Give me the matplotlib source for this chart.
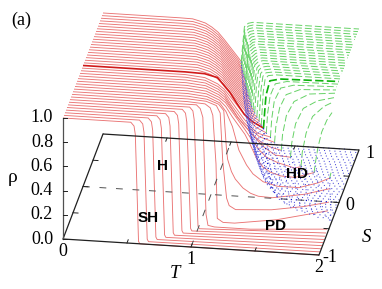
import matplotlib
matplotlib.use('Agg')
import matplotlib.pyplot as plt
import numpy as np

plt.rcParams['font.family'] = ['Liberation Serif', 'DejaVu Serif']

# oblique view of the (T, S, rho) box
ORIGIN_X, ORIGIN_Y = 63, 239
T_DX, T_DY = 128, 8
S_DX, S_DY = 20, -52.5
RHO_DY = -121

RED = '#ea7474'
RED_BOLD = '#d01a1a'
GREEN = '#66d266'
GREEN_BOLD = '#0cb20c'
BLUE = '#4a4ad8'
BLUE_BOLD = '#1414c8'

# points where the red branch stops and the green and blue ones start
branch_S = [1.0, 0.95, 0.9, 0.85, 0.8, 0.75, 0.7, 0.65, 0.6, 0.55, 0.5, 0.45, 0.4, 0.35, 0.3,
            0.25, 0.2, 0.15, 0.1, 0.05, 0.0, -0.05, -0.1, -0.15, -0.2, -0.25, -0.3, -0.35, -0.4]
branch_T = [1.08, 1.09, 1.10, 1.115, 1.13, 1.145, 1.16, 1.17, 1.18, 1.195, 1.21, 1.225, 1.24, 1.255, 1.27,
            1.29, 1.31, 1.335, 1.36, 1.385, 1.41, 1.44, 1.48, 1.52, 1.58, 1.66, 1.75, 1.86, 1.99]
branch_rho = [0.67, 0.665, 0.66, 0.66, 0.655, 0.65, 0.65, 0.645, 0.64, 0.64, 0.64, 0.635, 0.63, 0.625, 0.62,
              0.615, 0.61, 0.60, 0.59, 0.58, 0.576, 0.56, 0.55, 0.53, 0.49, 0.46, 0.41, 0.39, 0.375]

# red, S from 1.0 down to 0.05: T where each rho level of red_top_rho is reached
red_top_rho = [1.0, 0.998, 0.985, 0.97, 0.94, 0.90, 0.84, 0.775, 0.71, 0.65, 0.61, 0.585]
red_top_T = [
    [.60, .70, .75, .80, .85, .90, .95, 1.00, 1.05, 1.10, 1.15, 1.20],
    [.61, .71, .76, .81, .86, .91, .96, 1.01, 1.06, 1.11, 1.16, 1.21],
    [.62, .72, .77, .82, .87, .92, .97, 1.02, 1.07, 1.12, 1.17, 1.22],
    [.63, .73, .78, .83, .88, .93, .98, 1.03, 1.08, 1.13, 1.18, 1.23],
    [.64, .74, .79, .84, .89, .94, .99, 1.04, 1.09, 1.14, 1.19, 1.24],
    [.65, .75, .80, .85, .90, .95, 1.00, 1.05, 1.10, 1.15, 1.20, 1.25],
    [.66, .76, .81, .86, .91, .96, 1.01, 1.06, 1.11, 1.16, 1.21, 1.26],
    [.67, .77, .82, .87, .92, .97, 1.02, 1.07, 1.12, 1.17, 1.22, 1.27],
    [.68, .78, .83, .88, .93, .98, 1.03, 1.08, 1.13, 1.18, 1.23, 1.28],
    [.69, .79, .84, .89, .94, .99, 1.04, 1.09, 1.14, 1.19, 1.24, 1.29],
    [.70, .80, .85, .90, .95, 1.00, 1.05, 1.10, 1.15, 1.20, 1.25, 1.30],
    [.71, .81, .86, .91, .96, 1.01, 1.06, 1.11, 1.16, 1.21, 1.26, 1.31],
    [.72, .82, .87, .92, .97, 1.02, 1.07, 1.12, 1.17, 1.22, 1.27, 1.32],
    [.73, .83, .88, .93, .98, 1.03, 1.08, 1.13, 1.18, 1.23, 1.28, 1.33],
    [.74, .84, .89, .94, .99, 1.04, 1.09, 1.14, 1.19, 1.24, 1.29, 1.34],
    [.75, .85, .90, .95, 1.00, 1.05, 1.10, 1.15, 1.20, 1.25, 1.30, 1.35],
    [.76, .86, .91, .96, 1.01, 1.06, 1.11, 1.16, 1.21, 1.26, 1.31, 1.36],
    [.77, .87, .92, .97, 1.02, 1.07, 1.12, 1.17, 1.22, 1.27, 1.32, 1.37],
    [.78, .88, .93, .98, 1.03, 1.08, 1.13, 1.18, 1.23, 1.28, 1.33, 1.38],
    [.79, .89, .94, .99, 1.04, 1.09, 1.14, 1.19, 1.24, 1.29, 1.34, 1.39],
]

# red, S from 0 to -0.6, one row per curve
red_mid_S = [0.0, -0.05, -0.1, -0.15, -0.2, -0.25, -0.3, -0.35, -0.4, -0.45, -0.5, -0.55, -0.6]
red_mid_T = [
    [.80, .95, 1.05, 1.10, 1.15, 1.20, 1.26, 1.33, 1.41],
    [.81, .96, 1.06, 1.11, 1.16, 1.21, 1.26, 1.31, 1.36, 1.44],
    [.82, .97, 1.07, 1.12, 1.17, 1.22, 1.27, 1.32, 1.38, 1.48],
    [.83, .98, 1.08, 1.13, 1.18, 1.23, 1.28, 1.33, 1.40, 1.52],
    [.84, .99, 1.09, 1.14, 1.19, 1.24, 1.29, 1.35, 1.42, 1.50, 1.58],
    [.85, 1.00, 1.10, 1.15, 1.20, 1.25, 1.30, 1.36, 1.44, 1.54, 1.66],
    [.86, 1.01, 1.11, 1.16, 1.21, 1.26, 1.31, 1.37, 1.43, 1.48, 1.57, 1.70, 1.75],
    [.87, 1.02, 1.12, 1.17, 1.22, 1.27, 1.32, 1.36, 1.41, 1.46, 1.52, 1.60, 1.71, 1.86],
    [.88, 1.03, 1.13, 1.18, 1.23, 1.28, 1.34, 1.39, 1.47, 1.58, 1.75, 1.90, 1.99],
    [.89, 1.04, 1.13, 1.17, 1.19, 1.20, 1.23, 1.26, 1.32, 1.38, 1.44, 1.55, 1.80, 2.0],
    [.90, 1.04, 1.12, 1.15, 1.17, 1.19, 1.20, 1.22, 1.27, 1.55, 1.80, 2.0],
    [.90, 1.04, 1.08, 1.10, 1.125, 1.135, 1.18, 1.27, 1.60, 2.0],
    [.90, .98, 1.01, 1.03, 1.055, 1.07, 1.12, 1.40, 2.0],
]
red_mid_rho = [
    [1.0, .995, .97, .91, .85, .77, .68, .62, .576],
    [1.0, .985, .94, .90, .84, .775, .71, .65, .60, .56],
    [1.0, .985, .94, .90, .83, .76, .69, .63, .575, .55],
    [1.0, .985, .94, .90, .82, .75, .68, .63, .57, .53],
    [1.0, .985, .94, .90, .82, .74, .68, .61, .55, .51, .49],
    [1.0, .985, .94, .90, .83, .76, .70, .63, .54, .47, .46],
    [1.0, .985, .94, .90, .83, .76, .69, .60, .52, .47, .43, .395, .41],
    [1.0, .985, .94, .89, .81, .74, .67, .59, .48, .41, .37, .345, .34, .39],
    [1.0, .985, .94, .87, .75, .56, .44, .37, .31, .28, .28, .33, .375],
    [1.0, .985, .95, .90, .60, .50, .40, .34, .27, .23, .21, .205, .25, .31],
    [1.0, .99, .96, .90, .50, .30, .20, .14, .11, .127, .17, .22],
    [1.0, .99, .96, .90, .50, .05, .02, .02, .07, .17],
    [1.0, 1.0, .97, .90, .10, .01, .0, .0, .04],
]

# red, S from -1 to -0.65: the curves fall almost straight down
red_low_S = [-1.0, -0.95, -0.9, -0.85, -0.8, -0.75, -0.7, -0.65]
red_low_rho = [1.0, 1.0, 0.97, 0.90, 0.02, 0.0]
red_low_end = [0.0, 0.004, 0.008, 0.012, 0.016, 0.02, 0.025, 0.03]
red_low_T = [
    [.53, .555, .565, .59, .60],
    [.59, .615, .625, .65, .66],
    [.65, .675, .685, .71, .72],
    [.71, .735, .745, .77, .78],
    [.77, .795, .805, .83, .84],
    [.83, .855, .865, .89, .90],
    [.885, .91, .92, .95, .96],
    [.935, .96, .97, 1.00, 1.01],
]

# green, S from 1.0 to 0.05
green_top_rho = [0.85, 0.96, 0.99, 1.0, 1.0]
green_top_T = [
    [1.095, 1.105, 1.135, 1.17, 2.0],
    [1.105, 1.115, 1.145, 1.18, 2.0],
    [1.115, 1.125, 1.155, 1.19, 2.0],
    [1.13, 1.14, 1.17, 1.205, 2.0],
    [1.145, 1.155, 1.185, 1.22, 2.0],
    [1.16, 1.17, 1.20, 1.235, 2.0],
    [1.175, 1.185, 1.215, 1.25, 2.0],
    [1.185, 1.195, 1.225, 1.26, 2.0],
    [1.195, 1.205, 1.235, 1.27, 2.0],
    [1.21, 1.22, 1.25, 1.285, 2.0],
    [1.225, 1.235, 1.265, 1.30, 2.0],
    [1.24, 1.25, 1.28, 1.315, 2.0],
    [1.255, 1.265, 1.295, 1.33, 2.0],
    [1.27, 1.28, 1.31, 1.345, 2.0],
    [1.285, 1.295, 1.325, 1.36, 2.0],
    [1.305, 1.32, 1.345, 1.385, 2.0],
    [1.325, 1.34, 1.365, 1.41, 2.0],
    [1.35, 1.365, 1.39, 1.44, 2.0],
    [1.375, 1.39, 1.415, 1.47, 2.0],
    [1.40, 1.415, 1.44, 1.50, 2.0],
]

# green, S from 0 to -0.4
green_mid_S = [0.0, -0.05, -0.1, -0.15, -0.2, -0.25, -0.3, -0.35, -0.4]
green_mid_T = [
    [1.42, 1.43, 1.46, 1.54, 2.0],
    [1.45, 1.47, 1.51, 1.60, 2.0],
    [1.49, 1.51, 1.56, 1.66, 2.0],
    [1.53, 1.56, 1.61, 1.72, 2.0],
    [1.59, 1.62, 1.68, 1.80, 2.0],
    [1.67, 1.70, 1.76, 1.87, 2.0],
    [1.76, 1.79, 1.84, 1.93, 2.0],
    [1.87, 1.89, 1.92, 1.96, 2.0],
    [2.0],
]
green_mid_rho = [
    [.72, .85, .97, .99, 1.0],
    [.72, .87, .97, .995, 1.0],
    [.70, .85, .96, .99, 1.0],
    [.66, .82, .93, .98, .995],
    [.62, .78, .90, .97, .99],
    [.58, .74, .87, .94, .975],
    [.53, .69, .83, .92, .96],
    [.47, .60, .73, .83, .895],
    [.42],
]

# blue, same S as the branch list: T where rho reaches each level of blue_rho
blue_rho = [0.42, 0.22, 0.09, 0.02, 0.0, 0.0]
blue_T = [
    [1.095, 1.12, 1.15, 1.18, 1.21, 2.0],
    [1.105, 1.13, 1.16, 1.19, 1.22, 2.0],
    [1.115, 1.14, 1.17, 1.20, 1.23, 2.0],
    [1.13, 1.155, 1.185, 1.215, 1.245, 2.0],
    [1.145, 1.17, 1.20, 1.23, 1.26, 2.0],
    [1.16, 1.185, 1.215, 1.245, 1.275, 2.0],
    [1.175, 1.20, 1.23, 1.26, 1.29, 2.0],
    [1.185, 1.21, 1.24, 1.27, 1.30, 2.0],
    [1.195, 1.22, 1.25, 1.28, 1.31, 2.0],
    [1.21, 1.235, 1.265, 1.295, 1.325, 2.0],
    [1.225, 1.25, 1.28, 1.31, 1.34, 2.0],
    [1.24, 1.265, 1.295, 1.325, 1.355, 2.0],
    [1.255, 1.28, 1.31, 1.34, 1.37, 2.0],
    [1.27, 1.295, 1.325, 1.355, 1.385, 2.0],
    [1.285, 1.31, 1.34, 1.37, 1.40, 2.0],
    [1.305, 1.33, 1.36, 1.39, 1.42, 2.0],
    [1.325, 1.35, 1.38, 1.41, 1.44, 2.0],
    [1.35, 1.375, 1.405, 1.435, 1.465, 2.0],
    [1.375, 1.40, 1.43, 1.46, 1.49, 2.0],
    [1.40, 1.425, 1.455, 1.485, 1.515, 2.0],
    [1.425, 1.45, 1.48, 1.51, 1.54, 2.0],
    [1.455, 1.48, 1.51, 1.54, 1.57, 2.0],
    [1.495, 1.52, 1.55, 1.58, 1.61, 2.0],
    [1.535, 1.56, 1.59, 1.62, 1.65, 2.0],
    [1.595, 1.62, 1.65, 1.68, 1.71, 2.0],
    [1.675, 1.70, 1.73, 1.76, 1.79, 2.0],
    [1.765, 1.79, 1.82, 1.85, 1.88, 2.0],
    [1.875, 1.90, 1.93, 1.96, 1.99, 2.0],
    [2.0],
]

rho_ticks = [0.0, 0.2, 0.4, 0.6, 0.8, 1.0]
rho_tick_labels = ['0.0', '0.2', '0.4', '0.6', '0.8', '1.0']
T_ticks = [0.5, 1.0, 1.5]
S_ticks = [-0.5, 0.0, 0.5]


def proj(T, S, rho):
    T = np.asarray(T, dtype=float)
    rho = np.asarray(rho, dtype=float)
    x = ORIGIN_X + T_DX * T + S_DX * (S + 1)
    y = ORIGIN_Y + T_DY * T + S_DY * (S + 1) + RHO_DY * rho
    return x, y


def curve(T, S, rho, **kw):
    x, y = proj(T, S, rho)
    ax.plot(x, y, solid_capstyle='butt', dash_capstyle='butt', **kw)


fig = plt.figure(figsize=(3.82, 2.89), dpi=100)
ax = fig.add_axes([0, 0, 1, 1])
ax.set_xlim(0, 382)
ax.set_ylim(289, 0)
ax.axis('off')

red_kw = dict(color=RED, lw=0.65)

# red
for S, T, end in zip(red_low_S, red_low_T, red_low_end):
    curve([0.0] + T + [2.0], S, red_low_rho + [end], **red_kw)

for i in range(len(red_top_T)):
    Tb, rb = branch_T[i], branch_rho[i]
    T = [t for t in red_top_T[i] if t < Tb]
    rho = red_top_rho[:len(T)]
    curve([0.0] + T + [Tb], branch_S[i], [1.0] + rho + [rb], **red_kw)

for S, T, rho in zip(red_mid_S[::-1], red_mid_T[::-1], red_mid_rho[::-1]):
    if S == 0.0:
        curve([0.0] + T, S, [1.0] + rho, color=RED_BOLD, lw=1.2)
    else:
        curve([0.0] + T, S, [1.0] + rho, **red_kw)

# green
green_kw = dict(color=GREEN, lw=0.7, ls=(0, (7, 3)))
for i in range(len(green_top_T)):
    curve([branch_T[i]] + green_top_T[i], branch_S[i], [branch_rho[i]] + green_top_rho, **green_kw)

for j, S in enumerate(green_mid_S):
    i = branch_S.index(S)
    T = [branch_T[i]] + green_mid_T[j]
    rho = [branch_rho[i]] + green_mid_rho[j]
    if S == 0.0:
        curve(T, S, rho, color=GREEN_BOLD, lw=1.2, ls=(0, (5, 2)))
    else:
        curve(T, S, rho, **green_kw)

# blue
for i, S in enumerate(branch_S):
    T = [branch_T[i]] + blue_T[i]
    rho = [branch_rho[i]] + blue_rho[-len(blue_T[i]):]
    if S == 0.0:
        curve(T, S, rho, color=BLUE_BOLD, lw=0.9, ls=(0, (1, 3)))
    else:
        curve(T, S, rho, color=BLUE, lw=0.75, ls=(0, (1, 4)))

# floor of the box and the rho axis
axis_kw = dict(color='#202020', lw=0.9)
curve([0, 2], -1.0, [0, 0], **axis_kw)
curve([0, 2], 1.0, [0, 0], **axis_kw)
for T_edge in [0.0, 2.0]:
    xa, ya = proj(T_edge, -1.0, 0.0)
    xb, yb = proj(T_edge, 1.0, 0.0)
    ax.plot([xa, xb], [ya, yb], **axis_kw)
xa, ya = proj(0.0, -1.0, 0.0)
xb, yb = proj(0.0, -1.0, 1.0)
ax.plot([xa, xb], [ya, yb], color='#505050', lw=0.9)

# dashed cross through T=1, S=0
dash_kw = dict(color='#505050', lw=0.7, ls=(0, (7, 10)))
curve([0, 2], 0.0, [0, 0], **dash_kw)
xa, ya = proj(1.0, -1.0, 0.0)
xb, yb = proj(1.0, 1.0, 0.0)
ax.plot([xa, xb], [ya, yb], **dash_kw)

# ticks
tick_kw = dict(color='#202020', lw=0.7)
for r, lab in zip(rho_ticks, rho_tick_labels):
    x, y = proj(0.0, -1.0, r)
    ax.plot([x, x + 4], [y, y], **tick_kw)
    ax.text(x - 10, y, lab, ha='right', va='center', fontsize=13)
for t in T_ticks:
    for S_edge, sign in [(-1.0, 1), (1.0, -1)]:
        x, y = proj(t, S_edge, 0.0)
        ax.plot([x, x + sign * 1.2], [y, y - sign * 3.2], **tick_kw)
for s in S_ticks:
    for T_edge, sign in [(0.0, 1), (2.0, -1)]:
        x, y = proj(T_edge, s, 0.0)
        ax.plot([x, x + sign * 5], [y, y + sign * 0.3], **tick_kw)

for t, lab in zip([0, 1, 2], ['0', '1', '2']):
    x, y = proj(t, -1.0, 0.0)
    ax.text(x, y + 13, lab, ha='center', va='center', fontsize=13)
for s, lab in zip([-1, 0, 1], ['-1', '0', '1']):
    x, y = proj(2.0, s, 0.0)
    ax.text(x + 11, y + 3, lab, ha='center', va='center', fontsize=13)

ax.text(175, 273, 'T', style='italic', ha='center', va='center', fontsize=13.5)
ax.text(366, 237, 'S', style='italic', ha='center', va='center', fontsize=13.5)
ax.text(13, 177, 'ρ', ha='center', va='center', fontsize=14, family=['Liberation Serif', 'DejaVu Sans'])
ax.text(11, 20, '(a)', ha='left', va='center', fontsize=13)

bold_kw = dict(ha='center', va='center', fontsize=11, fontweight='bold',
               family=['Liberation Sans', 'DejaVu Sans'], color='black')
ax.text(163, 166, 'H', **bold_kw)
ax.text(148, 218, 'SH', **bold_kw)
ax.text(297, 174, 'HD', **bold_kw)
ax.text(276, 226, 'PD', **bold_kw)

fig.savefig('out.png', dpi=100)
